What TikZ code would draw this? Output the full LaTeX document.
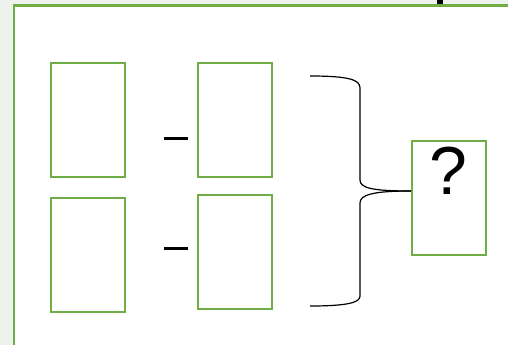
\documentclass[tikz,border=0pt]{standalone}
\usepackage{fontspec}
\setmainfont{Liberation Sans}
\definecolor{frgreen}{HTML}{70AD47}
\definecolor{bggrey}{HTML}{EEF2EC}
\begin{document}
\begin{tikzpicture}[x=1pt,y=-1pt,
  gbox/.style={draw=frgreen,line width=2.2pt,minimum width=74pt,minimum height=114pt,inner sep=0pt,anchor=north west},
  minus/.style={fill=black,inner sep=0pt,minimum width=24pt,minimum height=3pt},
  brace/.style={draw=black,line width=1.2pt}]
\useasboundingbox (0,0) rectangle (508,345);
\fill[bggrey] (0,0) rectangle (508,345);
\fill[white] (14,5.5) rectangle (508,345);
\fill[black] (437,0) rectangle (443,5);
\draw[frgreen,line width=2.6pt] (14,345) -- (14,5.5) -- (508,5.5);
\node[gbox] (a) at (50,62) {};
\node[gbox] (b) at (197,62) {};
\node[gbox] (c) at (50,197) {};
\node[gbox] (d) at (197,194) {};
\node[gbox] (q) at (411,140) {};
\node[font=\fontsize{68}{68}\selectfont,anchor=center] (qm) at (448,171) {?};
\node[minus] (m1) at (176,138) {};
\node[minus] (m2) at (176,248) {};
\coordinate (t) at (310,76);
\coordinate (bt) at (310,306);
\coordinate (tip) at (q.west |- 0,191);
\draw[brace] (t) .. controls (350,76) and (360,80) .. (360,88)
  -- (360,180) .. controls (360,188) and (372,191) .. (tip);
\draw[brace] (bt) .. controls (350,306) and (360,302) .. (360,296)
  -- (360,203) .. controls (360,195) and (372,191) .. (tip);
\end{tikzpicture}
\end{document}
